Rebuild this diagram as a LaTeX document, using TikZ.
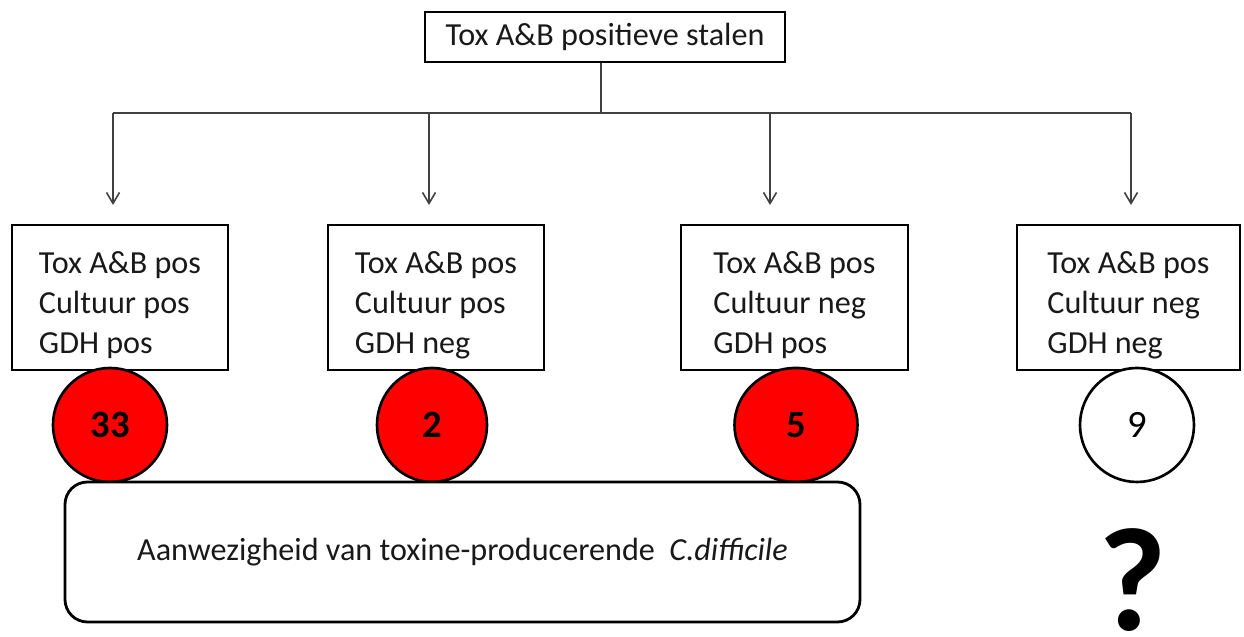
\documentclass[tikz,border=0pt]{standalone}
\usepackage{fontspec}
\setmainfont{Carlito}
\usepackage{tikz}
\usetikzlibrary{arrows.meta,shapes.geometric}
\newcommand{\kopregel}{\rule{0pt}{0.74cm}}

\begin{document}
\begin{tikzpicture}[
  txt/.style={font=\fontsize{18.3}{22.7}\selectfont, text=black!90},
  kader/.style={txt, draw, line width=1.6pt, align=left, minimum height=2.9cm},
  bol/.style={draw, ellipse, line width=1.5pt, minimum height=2.28cm,
    font=\fontsize{22}{22}\selectfont, text=black},
  lijn/.style={draw=black!75, line width=0.9pt},
  pijl/.style={lijn, -{Straight Barb[length=2.2mm,width=2.6mm]}}
]
\useasboundingbox (0,0) rectangle (24.88,12.74);
%top
\node[txt, draw, line width=1.6pt, minimum width=7.2cm, minimum height=1cm] (top) at (12.1,12.0) {Tox A\&B positieve stalen};
\coordinate (split) at (12.02,10.48);
\coordinate (k1) at (2.26,10.48);
\coordinate (k4) at (22.62,10.48);
\draw[lijn] (top.south -| split) -- (split);
\draw[lijn] (k1) -- (k4);
%boxes
\node[kader, minimum width=4.32cm] (b1) at (2.4,6.79) {\kopregel Tox A\&B pos\\Cultuur pos\\GDH pos};
\node[kader, minimum width=4.32cm] (b2) at (8.72,6.79) {\kopregel Tox A\&B pos\\Cultuur pos\\GDH neg};
\node[kader, minimum width=4.54cm] (b3) at (15.89,6.79) {\kopregel Tox A\&B pos\\Cultuur neg\\GDH pos};
\node[kader, minimum width=4.46cm] (b4) at (22.57,6.79) {\kopregel Tox A\&B pos\\Cultuur neg\\GDH neg};
\draw[pijl] (k1) -- (2.26,8.64);
\draw[pijl] (8.58,10.48) -- (8.58,8.64);
\draw[pijl] (15.4,10.48) -- (15.4,8.64);
\draw[pijl] (k4) -- (22.62,8.64);
%circles
\node[bol, fill=red, minimum width=2.28cm] (n1) at (2.2,4.24) {\bfseries 33};
\node[bol, fill=red, minimum width=2.2cm] (n2) at (8.64,4.24) {\bfseries 2};
\node[bol, fill=red, minimum width=2.46cm] (n3) at (15.92,4.24) {\bfseries 5};
\node[bol, fill=white, minimum width=2.28cm] (n4) at (22.74,4.24) {9};
%bottom
\node[txt, draw, fill=white, line width=1.6pt, rounded corners=0.45cm, minimum width=15.9cm, minimum height=2.8cm] (res) at (9.25,1.7) {Aanwezigheid van toxine-producerende\ \ \textit{C.difficile}\hspace{0.6cm}};
\node[font=\fontsize{84}{84}\selectfont\bfseries, anchor=base, inner sep=0pt] (vraag) at (22.66,0.12) {?};
\end{tikzpicture}
\end{document}
